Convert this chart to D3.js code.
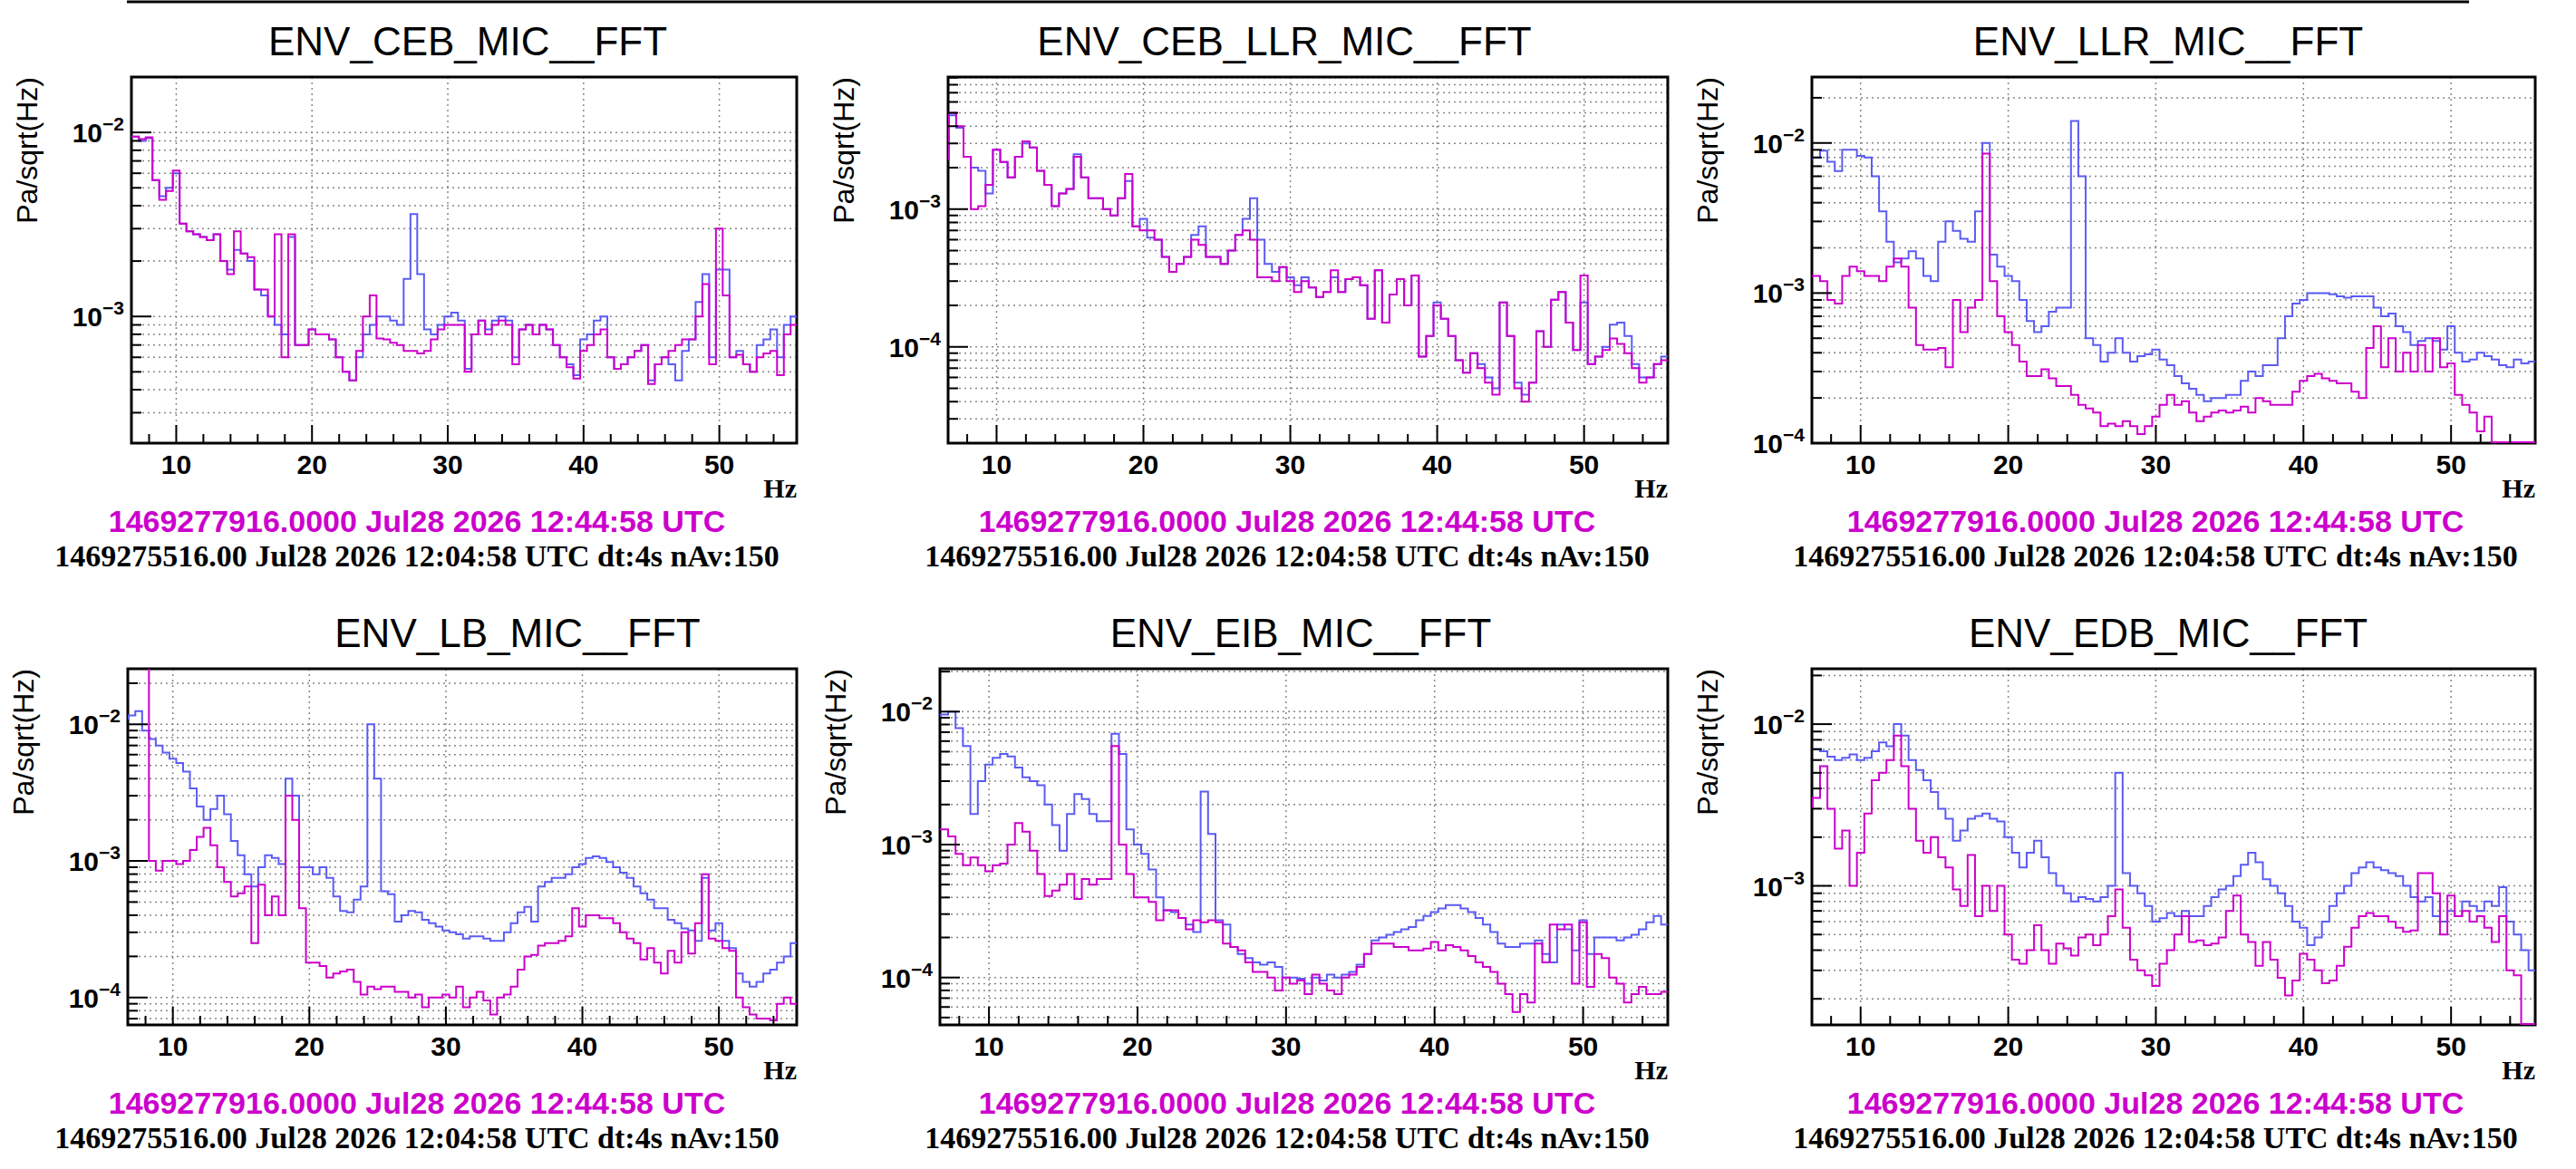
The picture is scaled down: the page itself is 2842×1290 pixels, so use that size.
<!DOCTYPE html>
<html>
<head>
<meta charset="utf-8">
<script src="https://cdn.jsdelivr.net/npm/d3@7"></script>
<style>
  body { margin: 0; background: #fff; }
  svg { display: block; }
</style>
</head>
<body>
<div id="chart"></div>
<script>
const W = 2842, H = 1290;

// bin centres: 6.5, 7.0, ... 55.5 Hz (0.5 Hz step); values in units of 1e-4 Pa/sqrt(Hz)
const binStart = 6.5, binStep = 0.5;

const titles = ["ENV_CEB_MIC__FFT", "ENV_CEB_LLR_MIC__FFT", "ENV_LLR_MIC__FFT",
                "ENV_LB_MIC__FFT", "ENV_EIB_MIC__FFT", "ENV_EDB_MIC__FFT"];
const refText = "1469277916.0000 Jul28 2026 12:44:58 UTC";
const curText = "1469275516.00 Jul28 2026 12:04:58 UTC dt:4s nAv:150";
const xTicks = [10, 20, 30, 40, 50];
const yDomains = [[2.05, 200], [0.2, 91], [1, 275], [0.63, 255], [0.44, 210], [1.38, 220]];

const blue1 = [95,95,90,93,55,45,50,60,32,29, 28,27,26,28,20,18,23,22,20,14, 13,10,9,8,27,7,7,8.5,8,8,
  7.5,6,5,4.5,6,8,9,10,10,9.5, 9,16,36,17,8.5,8,9,10,10.5,9.5, 5.2,8,9.5,8.5,9.5,10,9.5,6,8.5,9,
  8,9,8.5,7,6,5.5,4.8,7.5,8,9.5, 10,6,5.2,5.5,6,6.5,7,4.5,5.5,6, 5.5,4.5,6.5,7.5,12,17,6,18,18,6,
  6.5,5.5,5,7,7.5,8.5,6,9,10];
const mag1 = [95,95,92,94,55,43,48,62,32,29, 28,27,26,28,20,17,29,22,21,14, 14,10,28,6,28,7,7,8.5,8,8,
  7.5,6,5,4.5,6.5,10,13,7.6,7.5,7.2, 7,6.5,6.5,6.3,6.5,7.5,8.5,9,9,9, 5,8,9.5,8,9,9.5,9,5.5,8.5,9,
  8,9,8.5,7,6,5.3,4.6,6.5,7,8, 8.5,6,5.2,5.5,6,6.5,7,4.3,5.5,6, 6.5,7,7.5,7.5,10,15,5.5,30,13,6,
  6.2,5.5,5,6,6.3,6.5,4.8,8,9];

const blue2 = [23,48,39,24,20,19,13,27,22,17, 24,30,28,19,15,10.5,13,14,25,17, 12,12,10,9,12,16,7.5,8.5,6.2,6,
  4.5,3.5,4,4.5,6.5,7.5,4.5,4.5,4,5, 6.5,8.5,12,6,4,3.5,3.8,3.2,2.8,3.2, 2.7,2.3,2.5,3.2,2.5,3.1,3.2,2.8,1.6,3.6,
  1.5,2.4,3.1,2,3.3,0.85,1.2,2.1,1.6,1.2, 0.8,0.65,0.9,0.75,0.6,0.5,2.1,1.2,0.55,0.45, 0.55,1.3,1.0,2.2,2.5,1.5,0.95,2.1,0.75,0.85,
  1.0,1.45,1.5,1.2,0.75,0.6,0.6,0.75,0.85];
const mag2 = [23,50,40,24,10,10.5,15,27,22,17, 24,31,28,19,15,10.5,13,14,24,17, 12,12,10,9,12,18,7.5,7,7,6,
  4.5,3.5,4,4.5,6,5.5,4.5,4.5,4,5, 6.5,7,6,3.2,3.2,3,3.8,3,2.5,3, 2.7,2.3,2.5,3.6,2.5,3.1,3.2,2.8,1.6,3.6,
  1.5,2.4,3.1,2,3.3,0.85,1.2,2,1.6,1.2, 0.8,0.65,0.9,0.7,0.55,0.45,2.1,1.2,0.5,0.4, 0.55,1.3,1.0,2.2,2.5,1.5,0.95,3.3,0.75,0.85,
  0.95,1.15,1.05,0.9,0.7,0.55,0.6,0.75,0.8];

const blue3 = [79,80,89,75,65,90,90,82,80,60, 35,22,16,17,19,17,13,12,22,30, 26,23,22,35,100,18,15,13,12,9,
  6.5,5.5,6,7.5,8,8,140,60,5,4.5, 3.5,4,5,4,3.5,3.8,3.9,4.2,3.6,3.3, 2.8,2.5,2.3,2.1,1.9,2,2,2.1,2.1,2.6,
  3,2.8,3.3,3.3,5,7,8.5,9,10,10, 10,9.8,9.5,9.3,9.5,9.5,9.5,8,7,7.3, 6,5.5,4.5,4.8,5,4.8,4.2,6,4,3.5,
  3.6,4,3.8,3.6,3.3,3.2,3.6,3.4,3.5];
const mag3 = [13,13,12,9,8.5,13,15,14,13,13, 12,15,17,15,8,4.5,4.2,4.2,4.3,3.2, 9,5.5,8,9,85,12,7,5.5,4.5,3.5,
  2.8,2.8,3.1,2.7,2.4,2.4,2.1,1.8,1.7,1.6, 1.3,1.35,1.3,1.4,1.3,1.15,1.3,1.5,1.8,2.1, 1.8,1.9,1.6,1.4,1.5,1.6,1.65,1.6,1.65,1.75,
  1.6,2,1.9,1.8,1.8,1.8,2.2,2.6,2.8,2.9, 2.7,2.6,2.5,2.5,2.2,2.0,4.3,6,3.2,5, 3,4,3,4.5,3,5,3.2,3.4,2.1,1.8,
  1.6,1.2,1.5,0.8,0.8,0.8,0.8,0.8,0.8];

const blue4 = [110,116,125,90,78,70,62,56,52,45, 34,25,20,24,30,22,14,11,8,6.5, 9,11,10.5,9.5,40,30,9,9,8,9,
  7.5,5.5,4.3,4.2,5.2,6.5,100,40,6,5.7, 3.6,4,4.3,4.2,3.7,3.5,3.3,3.1,3,2.9, 2.7,2.8,2.8,2.7,2.6,2.6,3,3.5,4.2,4.6,
  3.6,6.5,7,7.5,7.5,8,9,9.5,10.5,10.8, 10.5,9.8,9,8.2,7.5,6.5,5.8,5.2,4.5,4.5, 3.7,3.5,3.2,3.1,2.6,7.5,3.1,3.5,2.6,2.3,
  1.5,1.3,1.2,1.3,1.5,1.6,1.8,2.0,2.5];
const mag4 = [500,500,500,500,10,8.5,10,10,9.5,10, 12,15,17.5,13,9,7,5.5,5.8,6.5,2.5, 6.7,4,5.5,4,30,20,4.5,1.8,1.8,1.7,
  1.4,1.5,1.55,1.6,1.3,1.05,1.2,1.15,1.2,1.2, 1.1,1.1,1.0,1.05,0.85,1.0,1.0,1.05,1.0,1.2, 0.85,1.0,1.1,0.95,0.75,1.0,1.05,1.2,1.6,2.0,
  2.05,2.4,2.5,2.5,2.6,2.8,4.5,3.3,4,4, 3.8,3.8,3.5,3,2.7,2.5,1.9,2.3,1.8,1.5, 2.2,1.8,3,2.1,3.5,8,2.7,2.6,2.3,2.2,
  1.0,0.85,0.75,0.7,0.7,0.68,0.9,1.0,0.9];

const blue5 = [90,95,100,75,55,17,30,40,45,48, 46,38,32,30,28,20,14,9,17,24, 22,17,15,15,68,48,13,10,8.5,6.5,
  4,3.2,3.1,2.8,2.5,2.2,25,12,2.7,2.5, 1.7,1.5,1.4,1.3,1.25,1.3,1.2,1.0,1.0,0.98, 0.9,1.0,0.95,1.05,1.0,1.05,1.1,1.25,1.5,1.9,
  2.0,2.1,2.2,2.3,2.4,2.7,2.9,3.1,3.3,3.5, 3.5,3.3,3.1,2.8,2.5,2.2,1.8,1.7,1.7,1.8, 1.8,1.9,1.5,1.3,2.5,2.3,1.6,2.7,1.5,2.0,
  2.0,2.0,1.9,2.0,2.1,2.3,2.6,2.9,2.5];
const mag5 = [13,13,11.5,8.5,7,8,7,6.3,7,7.2, 10,14.5,12.5,9,6,4.1,4.5,5,6,3.9, 5.5,5,5.5,5.5,55,10,6,4,4,3.7,
  2.7,3.2,3.2,2.8,2.3,2.7,2.6,2.7,2.6,1.8, 1.7,1.6,1.3,1.1,1.1,1.0,0.8,1.0,0.9,0.95, 0.75,1.05,0.9,0.8,0.75,1.0,1.05,1.2,1.5,1.8,
  1.8,1.8,1.7,1.7,1.6,1.6,1.65,1.85,1.6,1.75, 1.7,1.6,1.45,1.3,1.2,1.1,0.9,0.75,0.55,0.75, 0.65,1.8,1.3,2.5,2.3,2.5,0.9,2.6,0.85,1.5,
  1.4,1.0,0.9,0.65,0.75,0.85,0.75,0.75,0.78];

const blue6 = [70,70,68,63,60,62,65,60,62,68, 77,73,100,85,60,52,45,38,30,26, 19,22,26,27,28,26,25,20,16,13,
  16,19,15,12,10,9,8,8.5,8.3,8, 8.5,10,50,12,10,9,7.5,6,6.3,6.8, 6.5,7,6.5,6.5,7.5,8.5,9.5,10,11.5,13.5,
  16,14,11,10,9,7.5,6,5.5,4.3,4.8, 6,7.5,9,10,12,13,14,13,12.5,12, 11.5,10,8.5,8,8.5,6.5,6,7,6.5,8,
  7.5,7,8,7.5,9.8,6,5,4,3];
const mag6 = [30,35,55,30,17,22,10,16,28,45, 50,60,85,55,30,19,16,20,15,13, 9.5,7.5,15.5,6.5,10,7,10,5,3.5,3.3,
  4,5.7,4,3.3,4.4,4.1,3.7,4.8,5,4.3, 5,6.5,9.5,5.5,3.5,3,2.8,2.4,3.3,4, 5,6.5,4.5,4.6,4.3,4.4,4.8,7,8.7,5,
  4.5,3.2,4.5,3.5,2.7,2.1,2.6,3.8,3.5,3, 2.5,2.6,3.2,4.2,5.5,6.5,6.8,6.5,6.5,6, 5.5,5.2,5.3,12,12,9,5,8.7,6.5,7,
  6,6.5,5.5,4.5,6.5,3,2.8,1.2,1.0];

const blueSeries = [blue1, blue2, blue3, blue4, blue5, blue6];
const magSeries = [mag1, mag2, mag3, mag4, mag5, mag6];

// layout
const boxX = [[145, 879], [1046, 1840], [1999, 2797], [141, 879], [1037, 1840], [1999, 2797]];
const rowY = [[85, 489], [738, 1131]];
const titleX = [516, 1417, 2392, 571, 1435, 2392];
const infoX = [460, 1420, 2378];
const BLUE = "#5b5bf5", MAG = "#cc00cc";

const svg = d3.select("#chart").append("svg").attr("width", W).attr("height", H);
svg.append("rect").attr("width", W).attr("height", H).attr("fill", "#fff");
svg.append("line").attr("x1", 140).attr("x2", 2724).attr("y1", 2).attr("y2", 2)
   .attr("stroke", "#000").attr("stroke-width", 3);

titles.forEach((t, i) => {
  const row = Math.floor(i / 3), col = i % 3;
  const [x0, x1] = boxX[i], [y0, y1] = rowY[row];
  const x = d3.scaleLinear().domain([6.7, 55.7]).range([x0, x1]);
  const y = d3.scaleLog().domain(yDomains[i].map(v => v * 1e-4)).range([y1, y0]);
  const g = svg.append("g");

  g.append("text").attr("x", titleX[i]).attr("y", y0 - 24).attr("text-anchor", "middle")
    .attr("font-family", "Liberation Sans, Arial").attr("font-size", 44).text(t);

  // grid
  const yd = y.domain();
  const minors = [];
  for (let e = Math.floor(Math.log10(yd[0])); e <= Math.ceil(Math.log10(yd[1])); e++) {
    for (let m = 1; m <= 9; m++) {
      const v = m * Math.pow(10, e);
      if (v >= yd[0] && v <= yd[1]) minors.push({v, major: m === 1, e});
    }
  }
  g.selectAll(".hg").data(minors).enter().append("line")
    .attr("x1", x0).attr("x2", x1).attr("y1", d => y(d.v)).attr("y2", d => y(d.v))
    .attr("stroke", "#888").attr("stroke-width", 1.5).attr("stroke-dasharray", "2,4");
  g.selectAll(".vg").data(xTicks).enter().append("line")
    .attr("x1", d => x(d)).attr("x2", d => x(d)).attr("y1", y0).attr("y2", y1)
    .attr("stroke", "#888").attr("stroke-width", 1.5).attr("stroke-dasharray", "2,4");

  // frame
  g.append("rect").attr("x", x0).attr("y", y0).attr("width", x1 - x0).attr("height", y1 - y0)
    .attr("fill", "none").attr("stroke", "#000").attr("stroke-width", 3);

  // series (underflow bins drawn along the bottom edge, drawn over the frame)
  const clipId = "clip" + i;
  svg.append("clipPath").attr("id", clipId).append("rect")
    .attr("x", x0).attr("y", y0).attr("width", x1 - x0).attr("height", y1 - y0);
  const step = d3.line().curve(d3.curveStepAfter).x(d => x(d[0]))
    .y(d => Math.min(y1 - 1, y(d[1] * 1e-4)));
  [[blueSeries[i], BLUE], [magSeries[i], MAG]].forEach(([s, c]) => {
    const pts = s.map((v, k) => [binStart + k * binStep - binStep / 2, v]);
    pts.push([binStart + s.length * binStep - binStep / 2, s[s.length - 1]]);
    g.append("path").attr("d", step(pts)).attr("fill", "none").attr("stroke", c)
      .attr("stroke-width", 2).attr("clip-path", `url(#${clipId})`);
  });

  // x ticks
  const xt = d3.range(8, 56, 2);
  g.selectAll(".xt").data(xt).enter().append("line")
    .attr("x1", d => x(d)).attr("x2", d => x(d)).attr("y1", y1)
    .attr("y2", d => y1 - (d % 10 === 0 ? 20 : 10)).attr("stroke", "#000").attr("stroke-width", 2);
  g.selectAll(".xl").data(xTicks).enter().append("text")
    .attr("x", d => x(d)).attr("y", y1 + 34).attr("text-anchor", "middle")
    .attr("font-family", "Liberation Sans, Arial").attr("font-weight", "bold").attr("font-size", 30)
    .text(d => d);

  // y ticks
  g.selectAll(".yt").data(minors).enter().append("line")
    .attr("x1", x0).attr("x2", d => x0 + (d.major ? 22 : 11)).attr("y1", d => y(d.v)).attr("y2", d => y(d.v))
    .attr("stroke", "#000").attr("stroke-width", 2);
  const yl = g.selectAll(".yl").data(minors.filter(d => d.major)).enter().append("text")
    .attr("x", x0 - 8).attr("y", d => y(d.v) + 11).attr("text-anchor", "end")
    .attr("font-family", "Liberation Sans, Arial").attr("font-weight", "bold").attr("font-size", 30);
  yl.append("tspan").text("10");
  yl.append("tspan").attr("dy", -13).attr("font-size", 21).text(d => "\u2212" + (-d.e));

  g.append("text").attr("transform", `translate(${x0 - 104},${y0}) rotate(-90)`)
    .attr("text-anchor", "end").attr("font-family", "Liberation Sans, Arial").attr("font-size", 32)
    .text("Pa/sqrt(Hz)");

  g.append("text").attr("x", x1).attr("y", y1 + 60).attr("text-anchor", "end")
    .attr("font-family", "Liberation Serif, Times New Roman").attr("font-weight", "bold")
    .attr("font-size", 30).text("Hz");

  g.append("text").attr("x", infoX[col]).attr("y", y1 + 98).attr("text-anchor", "middle")
    .attr("font-family", "Liberation Sans, Arial").attr("font-weight", "bold")
    .attr("font-size", 34).attr("fill", MAG).text(refText);
  g.append("text").attr("x", infoX[col]).attr("y", y1 + 136).attr("text-anchor", "middle")
    .attr("font-family", "Liberation Serif, Times New Roman").attr("font-weight", "bold")
    .attr("font-size", 34).text(curText);
});
</script>
</body>
</html>
